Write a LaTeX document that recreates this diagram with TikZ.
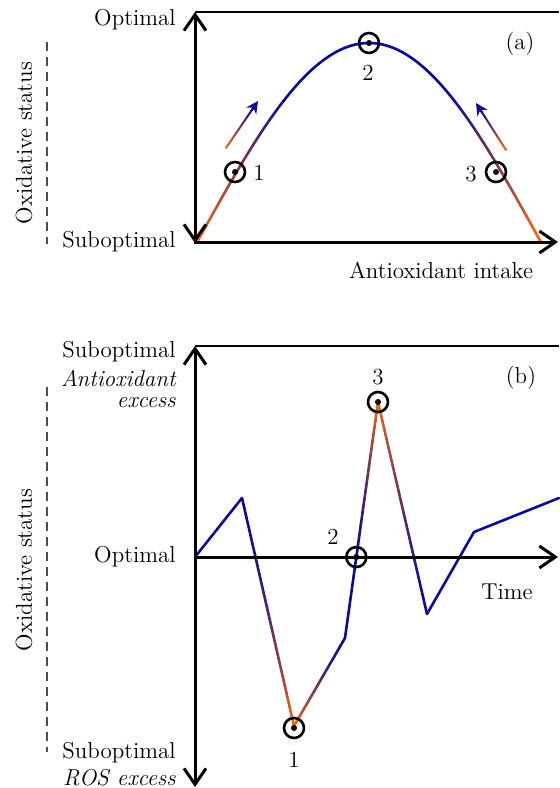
\documentclass[tikz,border=0pt]{standalone}
\usetikzlibrary{arrows.meta,calc}
\definecolor{cblue}{RGB}{10,10,150}
\definecolor{corange}{RGB}{240,105,20}
\tikzset{
  lab/.style={font=\fontsize{11.5}{13.8}\selectfont, inner sep=0pt},
  ilab/.style={font=\fontsize{11.5}{13.8}\selectfont\itshape, inner sep=0pt},
  axline/.style={line width=1.5pt},
  dbl/.style={arrows={Straight Barb[length=8pt,width=11pt]-Straight Barb[length=8pt,width=11pt]}},
  sgl/.style={arrows={-Straight Barb[length=8pt,width=11pt]}},
  frameline/.style={line width=0.6pt},
  dashline/.style={dash pattern=on 4.5pt off 3pt, line width=0.6pt, black!70},
  gline/.style={line width=1.3pt, line cap=round},
  aline/.style={line width=1pt, line cap=round},
  marker/.style={circle, draw, line width=1.3pt, minimum size=10pt, inner sep=0pt},
}
% #1 from, #2 to, #3 start colour, #4 end colour, #5 style, #6 exponent (orange share grows as t^#6 toward the orange end)
\newcommand\gradseg[6]{%
  \foreach \gi in {1,...,24}{%
    \pgfmathsetmacro\ga{(\gi-1)/24}%
    \pgfmathsetmacro\gb{\gi/24}%
    \pgfmathtruncatemacro\gc{100*((\gi-0.5)/24)^#6}%
    \draw[#5, color=#4!\gc!#3] ($(#1)!\ga!(#2)$) -- ($(#1)!\gb!(#2)$);
  }}
\begin{document}
\begin{tikzpicture}[x=0.5pt,y=-0.5pt]
\useasboundingbox (0,0) rectangle (559,788);

% ---------------- panel (a) ----------------
\foreach \d in {-172,-170,...,170}{%
  \pgfmathsetmacro\ya{43+195*(1-cos(deg(\d/108)))}%
  \pgfmathsetmacro\yb{43+195*(1-cos(deg((\d+2)/108)))}%
  \pgfmathtruncatemacro\bl{100*max(0,min(1,(171-abs(\d+1))/86))}%
  \draw[gline, color=cblue!\bl!corange] (369+\d,\ya) -- (371+\d,\yb);
}
\draw[frameline] (195,12) -- (559,12);
\draw[axline, dbl] (195,12) -- (195,243);
\draw[axline, sgl] (194.25,242) -- (558,242);
\node[lab, anchor=east] (aopt) at (176,20) {Optimal};
\node[lab, anchor=east] (asub) at (176,242) {Suboptimal};
\draw[dashline] (47,42) -- (47,244);
\node[lab, rotate=90] (aox) at (24,143) {Oxidative status};
\node[lab] (axl) at (441,270) {Antioxidant intake};
\node[lab] (atag) at (520,44) {(a)};
\node[marker] (ap1) at (235,172) {};
\node[marker] (ap2) at (369,43) {};
\node[marker] (ap3) at (496,172) {};
\foreach \p in {ap1,ap2,ap3} \fill (\p.center) circle[radius=1.5pt];
\node[lab] (al1) at (259,173) {1};
\node[lab] (al2) at (368,73) {2};
\node[lab] (al3) at (471,174) {3};
\coordinate (aa1s) at (226,148);
\coordinate (aa1e) at (258,101);
\coordinate (aa3s) at (506,150);
\coordinate (aa3e) at (476,103);
\gradseg{aa1s}{$(aa1s)!0.85!(aa1e)$}{corange}{cblue}{aline}{1}
\gradseg{aa3s}{$(aa3s)!0.85!(aa3e)$}{corange}{cblue}{aline}{1}
\draw[aline, cblue, -{Stealth[length=6pt,width=6pt]}] ($(aa1s)!0.8!(aa1e)$) -- (aa1e);
\draw[aline, cblue, -{Stealth[length=6pt,width=6pt]}] ($(aa3s)!0.8!(aa3e)$) -- (aa3e);

% ---------------- panel (b) ----------------
\coordinate (q0) at (195,557);
\coordinate (q1) at (242,498);
\coordinate (q2) at (294,726);
\coordinate (q3) at (345,638);
\coordinate (q5) at (378,402);
\coordinate (q4) at ($(q3)!0.343!(q5)$);
\coordinate (q6) at (427,614);
\coordinate (q7) at (474,532);
\coordinate (q8) at (559,498);
\draw[gline, cblue] (q0) -- (q1);
\gradseg{q1}{q2}{cblue}{corange}{gline}{1.8}
\gradseg{q3}{q2}{cblue}{corange}{gline}{1.4}
\draw[gline, cblue] (q3) -- (q4);
\gradseg{q4}{q5}{cblue}{corange}{gline}{1.4}
\gradseg{q6}{q5}{cblue}{corange}{gline}{1.4}
\draw[gline, cblue] (q6) -- (q7) -- (q8);
\draw[frameline] (195,346) -- (559,346);
\draw[axline, dbl] (195,346) -- (195,787);
\draw[axline, sgl] (195,557) -- (558,557);
\node[lab, anchor=east] (bsub1) at (176,352) {Suboptimal};
\node[ilab, anchor=east] (bex1) at (176,378) {Antioxidant};
\node[ilab, anchor=east] (bex2) at (176,403) {excess};
\node[lab, anchor=east] (bopt) at (176,557) {Optimal};
\node[lab, anchor=east] (bsub2) at (176,753) {Suboptimal};
\node[ilab, anchor=east] (bros) at (176,778) {ROS excess};
\draw[dashline] (47,387) -- (47,752);
\node[lab, rotate=90] (box) at (24,570) {Oxidative status};
\node[lab] (btime) at (507,592) {Time};
\node[lab] (btag) at (521,378) {(b)};
\node[marker] (bp1) at (294,728) {};
\node[marker] (bp2) at (q4) {};
\node[marker] (bp3) at (q5) {};
\foreach \p in {bp1,bp2,bp3} \fill (\p.center) circle[radius=1.5pt];
\node[lab] (bl1) at (294,760) {1};
\node[lab] (bl2) at (333,537) {2};
\node[lab] (bl3) at (378,377) {3};
\end{tikzpicture}
\end{document}
